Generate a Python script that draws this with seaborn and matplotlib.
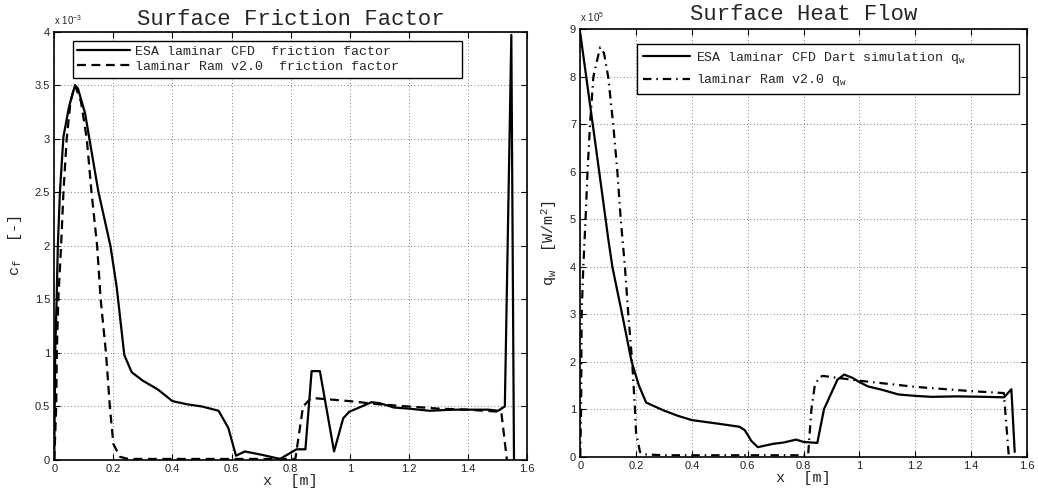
import matplotlib
matplotlib.use("Agg")
import matplotlib.pyplot as plt
import seaborn as sns
import pandas as pd

# ---- data -------------------------------------------------------------
# skin friction factor (values in units of 1e-3)
cf_cfd_x = [0, 0.003, 0.008, 0.012, 0.019, 0.031, 0.05, 0.07, 0.08, 0.104, 0.149, 0.19,
            0.211, 0.237, 0.262, 0.3, 0.35, 0.4, 0.45, 0.5, 0.556, 0.589, 0.615, 0.645,
            0.7, 0.764, 0.82, 0.85, 0.871, 0.899, 0.947, 0.978, 0.998, 1.074, 1.102,
            1.15, 1.2, 1.27, 1.35, 1.42, 1.47, 1.502, 1.525, 1.547, 1.556]
cf_cfd_y = [0, 1.0, 1.5, 2.0, 2.5, 3.02, 3.3, 3.5, 3.47, 3.24, 2.51, 2.0,
            1.62, 0.98, 0.82, 0.74, 0.66, 0.55, 0.52, 0.5, 0.46, 0.30, 0.04, 0.08,
            0.05, 0.01, 0.10, 0.10, 0.83, 0.83, 0.08, 0.39, 0.45, 0.54, 0.53,
            0.49, 0.48, 0.46, 0.47, 0.47, 0.47, 0.46, 0.50, 3.97, 0.0]

cf_ram_x = [0, 0.0065, 0.0085, 0.0135, 0.023, 0.031, 0.042, 0.055, 0.07, 0.09, 0.11,
            0.126, 0.145, 0.157, 0.175, 0.188, 0.2, 0.222, 0.25, 0.4, 0.6, 0.816,
            0.842, 0.87, 1.0, 1.1, 1.2, 1.3, 1.4, 1.513, 1.532]
cf_ram_y = [0, 0.5, 1.0, 1.5, 2.0, 2.5, 3.0, 3.35, 3.5, 3.35, 3.0,
            2.5, 2.0, 1.5, 1.0, 0.5, 0.15, 0.03, 0.01, 0.01, 0.01, 0.01,
            0.5, 0.58, 0.55, 0.52, 0.50, 0.48, 0.47, 0.45, 0.0]

# wall heat flux (values in units of 1e5 W/m^2)
qw_cfd_x = [0, 0.0645, 0.1, 0.115, 0.15, 0.184, 0.21, 0.236, 0.3, 0.35, 0.4, 0.5,
            0.57, 0.589, 0.613, 0.636, 0.69, 0.73, 0.773, 0.8, 0.849, 0.873, 0.9,
            0.921, 0.945, 0.975, 1.0, 1.03, 1.08, 1.14, 1.2, 1.26, 1.35, 1.45,
            1.518, 1.544, 1.556]
qw_cfd_y = [8.92, 6.15, 4.6, 4.0, 3.0, 2.0, 1.5, 1.14, 0.97, 0.86, 0.77, 0.69,
            0.63, 0.56, 0.33, 0.20, 0.27, 0.30, 0.36, 0.31, 0.29, 1.0, 1.35,
            1.62, 1.73, 1.66, 1.57, 1.48, 1.41, 1.31, 1.28, 1.26, 1.27, 1.26,
            1.25, 1.42, 0.1]

qw_ram_x = [0, 0.003, 0.005, 0.011, 0.019, 0.026, 0.035, 0.047, 0.071, 0.085, 0.1,
            0.118, 0.133, 0.145, 0.16, 0.172, 0.186, 0.196, 0.2, 0.214, 0.226, 0.3,
            0.5, 0.816, 0.828, 0.84, 0.857, 0.87, 1.0, 1.2, 1.4, 1.517, 1.535]
qw_ram_y = [0, 1.0, 3.0, 4.0, 5.0, 6.0, 7.0, 8.0, 8.62, 8.5, 8.0,
            7.0, 6.0, 5.0, 4.0, 3.0, 2.0, 1.0, 0.5, 0.1, 0.05, 0.03,
            0.03, 0.03, 1.0, 1.5, 1.68, 1.70, 1.6, 1.47, 1.38, 1.34, 0.0]

x_ticks = [0, 0.2, 0.4, 0.6, 0.8, 1.0, 1.2, 1.4, 1.6]
cf_ticks = [0, 0.5, 1, 1.5, 2, 2.5, 3, 3.5, 4]
qw_ticks = [0, 1, 2, 3, 4, 5, 6, 7, 8, 9]

cf_labels = ["ESA laminar CFD  friction factor", "laminar Ram v2.0  friction factor"]
qw_labels = [r"ESA laminar CFD Dart simulation q$_\mathtt{w}$", r"laminar Ram v2.0 q$_\mathtt{w}$"]

# ---- style ------------------------------------------------------------
sns.set_style("ticks")
plt.rcParams.update({
    "font.family": ["Liberation Sans", "DejaVu Sans"],
    "mathtext.fontset": "custom",
    "mathtext.rm": "Liberation Sans",
    "mathtext.it": "Liberation Sans:italic",
    "mathtext.tt": "Liberation Mono",
    "xtick.direction": "in",
    "ytick.direction": "in",
    "xtick.top": True,
    "ytick.right": True,
    "xtick.major.size": 4,
    "ytick.major.size": 4,
    "xtick.labelsize": 8,
    "ytick.labelsize": 8,
    "axes.linewidth": 1.2,
    "axes.edgecolor": "black",
})
MONO = "Liberation Mono"

fig = plt.figure(figsize=(10.38, 4.9), dpi=100)
ax1 = fig.add_axes([0.0523, 0.0612, 0.4554, 0.8741])
ax2 = fig.add_axes([0.559, 0.068, 0.4304, 0.8722])

DASH = (4, 2.5)
DASHDOT = (3.8, 2.2, 0.7, 2.2)


def draw(ax, x, y, dashes=None):
    df = pd.DataFrame({"x": x, "y": y})
    sns.lineplot(data=df, x="x", y="y", ax=ax, sort=False, estimator=None,
                 color="black", linewidth=1.6)
    line = ax.lines[-1]
    if dashes is not None:
        line.set_dashes(dashes)
    return line


def frame(ax, yticks, ylim):
    ax.set_xlim(0, 1.6)
    ax.set_ylim(*ylim)
    ax.set_xticks(x_ticks)
    ax.set_xticklabels([f"{v:g}" for v in x_ticks])
    ax.set_yticks(yticks)
    ax.set_yticklabels([f"{v:g}" for v in yticks])
    ax.tick_params(colors="black", labelcolor="#222222", pad=3)
    ax.grid(True, linestyle=(0, (1, 3)), color="#555555", linewidth=0.6)
    for s in ax.spines.values():
        s.set_visible(True)
        s.set_color("black")


def boxed_legend(ax, handles, labels, anchor, **kw):
    leg = ax.legend(handles, labels, loc="upper left", bbox_to_anchor=anchor,
                    mode="expand", prop={"family": MONO, "size": 9.5},
                    frameon=True, fancybox=False, edgecolor="black",
                    borderaxespad=0, **kw)
    leg.get_frame().set_linewidth(1.0)
    leg.get_frame().set_alpha(1)
    return leg


# friction factor panel
l1 = draw(ax1, cf_cfd_x, cf_cfd_y)
l2 = draw(ax1, cf_ram_x, cf_ram_y, DASH)
frame(ax1, cf_ticks, (0, 4))
ax1.set_title("Surface Friction Factor", fontfamily=MONO, fontsize=16, pad=5)
ax1.set_xlabel("x  [m]", fontfamily=MONO, fontsize=11, labelpad=0)
ax1.set_ylabel(r"c$_\mathtt{f}$  [-]", fontfamily=MONO, fontsize=11, labelpad=8)
ax1.text(0.0, 1.012, r"x 10$^{-3}$", transform=ax1.transAxes, fontsize=7,
         ha="left", va="bottom")
boxed_legend(ax1, [l1, l2], cf_labels, (0.039, 0.899, 0.823, 0.08),
             handlelength=4.0, labelspacing=0.25, borderpad=0.35, handletextpad=0.4)

# heat flux panel
l3 = draw(ax2, qw_cfd_x, qw_cfd_y)
l4 = draw(ax2, qw_ram_x, qw_ram_y, DASHDOT)
frame(ax2, qw_ticks, (0, 9))
ax2.set_title("Surface Heat Flow", fontfamily=MONO, fontsize=16, pad=7)
ax2.set_xlabel("x  [m]", fontfamily=MONO, fontsize=11, labelpad=0)
ax2.set_ylabel(r"q$_\mathtt{w}$  [W/m$^\mathtt{2}$]", fontfamily=MONO, fontsize=11, labelpad=8)
ax2.text(0.0, 1.012, r"x 10$^{5}$", transform=ax2.transAxes, fontsize=7,
         ha="left", va="bottom")
boxed_legend(ax2, [l3, l4], qw_labels, (0.127, 0.856, 0.855, 0.11),
             handlelength=3.6, labelspacing=0.5, borderpad=0.45, handletextpad=0.4)

fig.savefig("out.png", dpi=100, facecolor="white")
